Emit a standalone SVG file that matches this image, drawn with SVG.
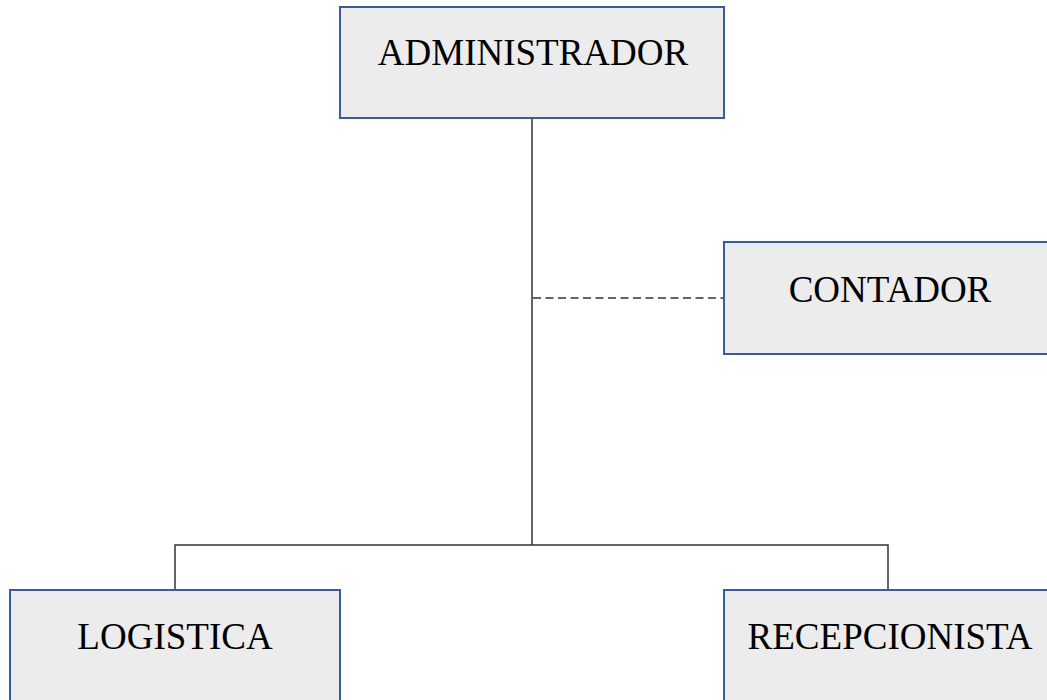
<svg xmlns="http://www.w3.org/2000/svg" width="1047" height="700" viewBox="0 0 1047 700">
<style>
.box{fill:#ECECEC;stroke:#3B5B9B;stroke-width:2}
.lbl{font-family:"Liberation Serif","Times New Roman",serif;font-size:37px;fill:#000;text-anchor:middle}
.conn{fill:none;stroke:#333;stroke-width:1.5}
.dash{stroke-dasharray:8 4.5}
</style>
<rect width="1047" height="700" fill="#fff"/>
<g id="connectors">
<path class="conn" d="M532,118 V545 M175,590 V545 H888 V590"/>
<path class="conn dash" d="M533,298 H724"/>
</g>
<g id="administrador"><rect class="box" x="340" y="7" width="384" height="111"/><text class="lbl" x="533" y="65">ADMINISTRADOR</text></g>
<g id="contador"><rect class="box" x="724" y="242" width="332" height="112"/><text class="lbl" x="890" y="302">CONTADOR</text></g>
<g id="logistica"><rect class="box" x="10" y="590" width="330" height="120"/><text class="lbl" x="175" y="649">LOGISTICA</text></g>
<g id="recepcionista"><rect class="box" x="724" y="590" width="332" height="120"/><text class="lbl" x="890" y="649">RECEPCIONISTA</text></g>
</svg>
